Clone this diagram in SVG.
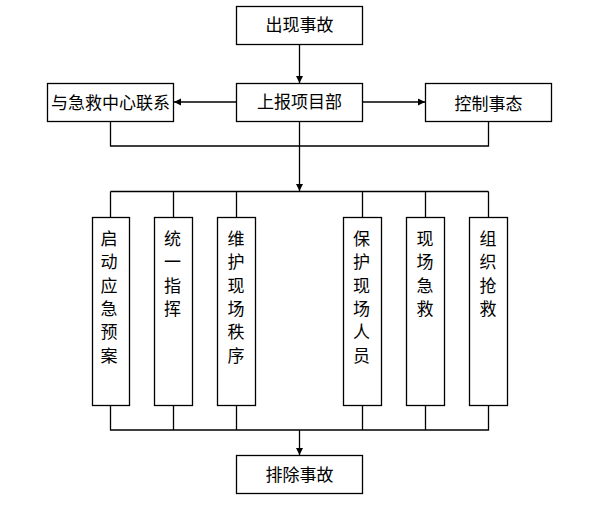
<svg xmlns="http://www.w3.org/2000/svg" width="594" height="509" viewBox="0 0 594 509">
<style>
rect{fill:#fff;stroke:#000;stroke-width:1.3}
text{font-family:"Noto Sans CJK SC","Noto Sans CJK JP",sans-serif;font-size:17px;fill:#000;text-anchor:middle}
.c{fill:none;stroke:#000;stroke-width:1.3}
</style>
<defs>
<marker id="a" markerWidth="8" markerHeight="8" refX="7" refY="4" orient="auto" markerUnits="userSpaceOnUse">
<path d="M0,0.5 L7,4 L0,7.5 Z" fill="#000"/>
</marker>
</defs>
<g id="connectors">
<path class="c" d="M299.5,44 V83" marker-end="url(#a)"/>
<path class="c" d="M236,102 H174" marker-end="url(#a)"/>
<path class="c" d="M362,102 H425" marker-end="url(#a)"/>
<path class="c" d="M110.5,121 V146 H488.5 V121"/>
<path class="c" d="M299.5,121 V191" marker-end="url(#a)"/>
<path class="c" d="M110.5,191.5 H488.5 M110.5,191.5 V217 M173.5,191.5 V217 M236.5,191.5 V217 M362.5,191.5 V217 M425.5,191.5 V217 M488.5,191.5 V217"/>
<path class="c" d="M110.5,405 V430 H488.5 V405 M173.5,405 V430 M236.5,405 V430 M362.5,405 V430 M425.5,405 V430"/>
<path class="c" d="M299.5,430 V455" marker-end="url(#a)"/>
</g>
<g id="n1"><rect x="236.5" y="6.5" width="126" height="38"/><text x="299.5" y="31">出现事故</text></g>
<g id="n2"><rect x="47.5" y="83.5" width="126" height="38"/><text x="110.5" y="108.5">与急救中心联系</text></g>
<g id="n3"><rect x="236.5" y="83.5" width="126" height="38"/><text x="299.5" y="108">上报项目部</text></g>
<g id="n4"><rect x="425.5" y="83.5" width="126" height="38"/><text x="488.5" y="110">控制事态</text></g>
<g id="v1"><rect x="92.5" y="217.5" width="37" height="188"/><text x="109" y="245">启</text><text x="109" y="268.3">动</text><text x="109" y="291.6">应</text><text x="109" y="314.9">急</text><text x="109" y="338.2">预</text><text x="109" y="361.5">案</text></g>
<g id="v2"><rect x="154.5" y="217.5" width="38" height="188"/><text x="172.5" y="245">统</text><text x="172.5" y="268.3">一</text><text x="172.5" y="291.6">指</text><text x="172.5" y="314.9">挥</text></g>
<g id="v3"><rect x="217.5" y="217.5" width="38" height="188"/><text x="236" y="245">维</text><text x="236" y="268.3">护</text><text x="236" y="291.6">现</text><text x="236" y="314.9">场</text><text x="236" y="338.2">秩</text><text x="236" y="361.5">序</text></g>
<g id="v4"><rect x="343.5" y="217.5" width="38" height="188"/><text x="361.5" y="245">保</text><text x="361.5" y="268.3">护</text><text x="361.5" y="291.6">现</text><text x="361.5" y="314.9">场</text><text x="361.5" y="338.2">人</text><text x="361.5" y="361.5">员</text></g>
<g id="v5"><rect x="406.5" y="217.5" width="38" height="188"/><text x="425" y="245">现</text><text x="425" y="268.3">场</text><text x="425" y="291.6">急</text><text x="425" y="314.9">救</text></g>
<g id="v6"><rect x="469.5" y="217.5" width="38" height="188"/><text x="488" y="245">组</text><text x="488" y="268.3">织</text><text x="488" y="291.6">抢</text><text x="488" y="314.9">救</text></g>
<g id="n5"><rect x="236.5" y="455.5" width="126" height="38"/><text x="299.5" y="481">排除事故</text></g>
</svg>
